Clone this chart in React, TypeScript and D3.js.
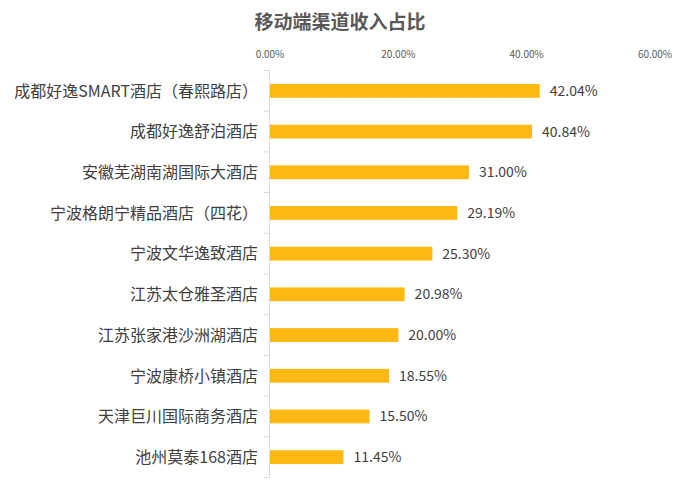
import { useEffect, useRef } from 'react';
import * as d3 from 'd3';

const HOTELS = [
  '成都好逸SMART酒店（春熙路店）',
  '成都好逸舒泊酒店',
  '安徽芜湖南湖国际大酒店',
  '宁波格朗宁精品酒店（四花）',
  '宁波文华逸致酒店',
  '江苏太仓雅圣酒店',
  '江苏张家港沙洲湖酒店',
  '宁波康桥小镇酒店',
  '天津巨川国际商务酒店',
  '池州莫泰168酒店',
];
const SHARE = [0.4204, 0.4084, 0.31, 0.2919, 0.253, 0.2098, 0.2, 0.1855, 0.155, 0.1145];
const X_TICKS = [0, 0.2, 0.4, 0.6];

const W = 681;
const H = 492;
const FONT = '"Noto Sans CJK SC", "Noto Sans", sans-serif';

export default function App() {
  const svgRef = useRef<SVGSVGElement>(null);

  useEffect(() => {
    document.body.style.margin = '0';
    const svg = d3.select(svgRef.current);
    svg.selectAll('*').remove();

    const x = d3.scaleLinear().domain([0, 0.6]).range([270, 655]);
    const y = d3.scaleBand().domain(HOTELS).range([70.5, 477.5]).paddingInner(0.66).paddingOuter(0.33);
    const fmt = d3.format('.2%');

    // Title
    svg.append('text').attr('x', 340).attr('y', 29)
      .attr('text-anchor', 'middle').attr('font-size', 19).attr('font-weight', 700)
      .attr('fill', '#595959').text('移动端渠道收入占比');

    // Top axis labels
    svg.append('g').selectAll('text').data(X_TICKS).join('text')
      .attr('x', (d) => x(d)).attr('y', 57.5).attr('text-anchor', 'middle')
      .attr('font-size', 10).attr('fill', '#595959').text((d) => fmt(d));

    // Category axis
    const step = y.step();
    const bounds = d3.range(HOTELS.length + 1).map((i) => 70.5 + i * step);
    const ax = svg.append('g').attr('stroke', '#d9d9d9').attr('stroke-width', 1);
    ax.append('line').attr('x1', 269.5).attr('x2', 269.5).attr('y1', 70.5).attr('y2', 477.5);
    ax.selectAll('.tick').data(bounds).join('line')
      .attr('x1', 264).attr('x2', 269.5).attr('y1', (d) => d).attr('y2', (d) => d);

    // Bars
    svg.append('g').selectAll('rect').data(HOTELS).join('rect')
      .attr('x', x(0)).attr('y', (d) => y(d)!)
      .attr('width', (_, i) => x(SHARE[i]) - x(0)).attr('height', y.bandwidth())
      .attr('fill', '#FDB813');

    // Category labels
    svg.append('g').selectAll('text').data(HOTELS).join('text')
      .attr('x', 258).attr('y', (d) => y(d)! + y.bandwidth() / 2).attr('dy', '0.36em')
      .attr('text-anchor', 'end').attr('font-size', 16).attr('fill', '#404040')
      .text((d) => d);

    // Value labels
    svg.append('g').selectAll('text').data(HOTELS).join('text')
      .attr('x', (_, i) => x(SHARE[i]) + 10).attr('y', (d) => y(d)! + y.bandwidth() / 2).attr('dy', '0.36em')
      .attr('font-size', 14).attr('fill', '#404040')
      .text((_, i) => fmt(SHARE[i]));
  }, []);

  return (
    <svg ref={svgRef} width={W} height={H} style={{ display: 'block', background: '#fff', fontFamily: FONT }} />
  );
}
